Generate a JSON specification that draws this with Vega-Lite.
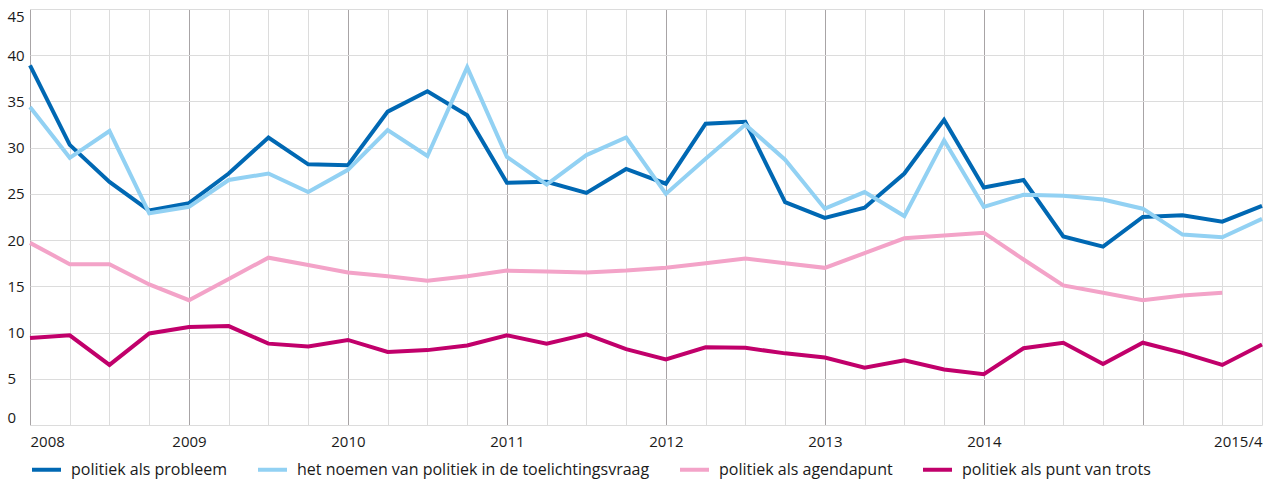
{
  "$schema": "https://vega.github.io/schema/vega-lite/v6.json",
  "width": 1232,
  "height": 416,
  "autosize": {"type": "none"},
  "padding": {"left": 30, "top": 9, "right": 7, "bottom": 59},
  "background": "white",
  "config": {
    "view": {"stroke": null},
    "font": "Open Sans",
    "axis": {"labelFont": "Open Sans", "labelFontSize": 15, "labelColor": "#1a1a1a", "domain": false, "ticks": false, "tickSize": 0, "title": null},
    "legend": {"labelFont": "Open Sans", "labelFontSize": 16, "labelColor": "#1a1a1a"}
  },
  "data": {
    "values": [
      {"q": "2008/1", "probleem": 38.9, "toelichting": 34.4, "agendapunt": 19.7, "trots": 9.4},
      {"q": "2008/2", "probleem": 30.3, "toelichting": 28.9, "agendapunt": 17.4, "trots": 9.7},
      {"q": "2008/3", "probleem": 26.3, "toelichting": 31.8, "agendapunt": 17.4, "trots": 6.5},
      {"q": "2008/4", "probleem": 23.2, "toelichting": 22.9, "agendapunt": 15.2, "trots": 9.9},
      {"q": "2009/1", "probleem": 24.0, "toelichting": 23.6, "agendapunt": 13.5, "trots": 10.6},
      {"q": "2009/2", "probleem": 27.2, "toelichting": 26.5, "agendapunt": 15.8, "trots": 10.7},
      {"q": "2009/3", "probleem": 31.1, "toelichting": 27.2, "agendapunt": 18.1, "trots": 8.8},
      {"q": "2009/4", "probleem": 28.2, "toelichting": 25.2, "agendapunt": 17.3, "trots": 8.5},
      {"q": "2010/1", "probleem": 28.1, "toelichting": 27.6, "agendapunt": 16.5, "trots": 9.2},
      {"q": "2010/2", "probleem": 33.9, "toelichting": 31.9, "agendapunt": 16.1, "trots": 7.9},
      {"q": "2010/3", "probleem": 36.1, "toelichting": 29.1, "agendapunt": 15.6, "trots": 8.1},
      {"q": "2010/4", "probleem": 33.5, "toelichting": 38.7, "agendapunt": 16.1, "trots": 8.6},
      {"q": "2011/1", "probleem": 26.2, "toelichting": 29.0, "agendapunt": 16.7, "trots": 9.7},
      {"q": "2011/2", "probleem": 26.3, "toelichting": 26.0, "agendapunt": 16.6, "trots": 8.8},
      {"q": "2011/3", "probleem": 25.1, "toelichting": 29.2, "agendapunt": 16.5, "trots": 9.8},
      {"q": "2011/4", "probleem": 27.7, "toelichting": 31.1, "agendapunt": 16.7, "trots": 8.2},
      {"q": "2012/1", "probleem": 26.1, "toelichting": 25.0, "agendapunt": 17.0, "trots": 7.1},
      {"q": "2012/2", "probleem": 32.6, "toelichting": 28.8, "agendapunt": 17.5, "trots": 8.4},
      {"q": "2012/3", "probleem": 32.8, "toelichting": 32.5, "agendapunt": 18.0, "trots": 8.35},
      {"q": "2012/4", "probleem": 24.1, "toelichting": 28.7, "agendapunt": 17.5, "trots": 7.75},
      {"q": "2013/1", "probleem": 22.4, "toelichting": 23.4, "agendapunt": 17.0, "trots": 7.3},
      {"q": "2013/2", "probleem": 23.5, "toelichting": 25.2, "agendapunt": 18.6, "trots": 6.2},
      {"q": "2013/3", "probleem": 27.2, "toelichting": 22.6, "agendapunt": 20.2, "trots": 7.0},
      {"q": "2013/4", "probleem": 33.0, "toelichting": 30.8, "agendapunt": 20.5, "trots": 6.0},
      {"q": "2014/1", "probleem": 25.7, "toelichting": 23.6, "agendapunt": 20.8, "trots": 5.5},
      {"q": "2014/2", "probleem": 26.5, "toelichting": 24.9, "agendapunt": 17.9, "trots": 8.3},
      {"q": "2014/3", "probleem": 20.4, "toelichting": 24.8, "agendapunt": 15.1, "trots": 8.9},
      {"q": "2014/4", "probleem": 19.3, "toelichting": 24.4, "agendapunt": 14.3, "trots": 6.6},
      {"q": "2015/1", "probleem": 22.5, "toelichting": 23.4, "agendapunt": 13.5, "trots": 8.9},
      {"q": "2015/2", "probleem": 22.7, "toelichting": 20.6, "agendapunt": 14.0, "trots": 7.8},
      {"q": "2015/3", "probleem": 22.0, "toelichting": 20.3, "agendapunt": 14.3, "trots": 6.5},
      {"q": "2015/4", "probleem": 23.7, "toelichting": 22.3, "trots": 8.7}
    ]
  },
  "transform": [
    {"fold": ["probleem", "toelichting", "agendapunt", "trots"], "as": ["reeks", "waarde"]}
  ],
  "mark": {"type": "line", "strokeWidth": 4, "strokeJoin": "miter", "strokeCap": "butt"},
  "encoding": {
    "x": {
      "field": "q",
      "type": "ordinal",
      "scale": {"type": "point", "padding": 0},
      "axis": {
        "grid": true,
        "gridWidth": 1,
        "gridColor": {"condition": {"test": "indexof(datum.value, '/1') > 0", "value": "#a8a4a6"}, "value": "#dcdcdc"},
        "labelOverlap": false,
        "labelAngle": 0,
        "labelPadding": 9,
        "labelBaseline": "top",
        "labelAlign": {"condition": [{"test": "datum.value == '2008/1'", "value": "left"}, {"test": "datum.value == '2015/4'", "value": "right"}], "value": "center"},
        "labelExpr": "datum.value == '2015/4' ? '2015/4' : (indexof(datum.value, '/1') > 0 && datum.value != '2015/1' ? slice(datum.value, 0, 4) : '')"
      }
    },
    "y": {
      "field": "waarde",
      "type": "quantitative",
      "scale": {"domain": [0, 45], "nice": false, "zero": true},
      "axis": {
        "values": [0, 5, 10, 15, 20, 25, 30, 35, 40, 45],
        "grid": true,
        "gridColor": "#dcdcdc",
        "gridWidth": 1,
        "labelAlign": "left",
        "labelPadding": 23,
        "labelFlush": true
      }
    },
    "color": {
      "field": "reeks",
      "type": "nominal",
      "scale": {
        "domain": ["probleem", "toelichting", "agendapunt", "trots"],
        "range": ["#0068b3", "#92d1f3", "#f3a3c8", "#c1006b"]
      },
      "legend": {
        "title": null,
        "orient": "none",
        "direction": "horizontal",
        "legendX": 0,
        "legendY": 444,
        "padding": 0,
        "symbolType": "stroke",
        "symbolSize": 841,
        "symbolStrokeWidth": 4,
        "labelOffset": 8,
        "labelLimit": 0,
        "columnPadding": 22,
        "labelExpr": "datum.label == 'probleem' ? 'politiek als probleem' : datum.label == 'toelichting' ? 'het noemen van politiek in de toelichtingsvraag' : datum.label == 'agendapunt' ? 'politiek als agendapunt' : 'politiek als punt van trots'"
      }
    }
  }
}
